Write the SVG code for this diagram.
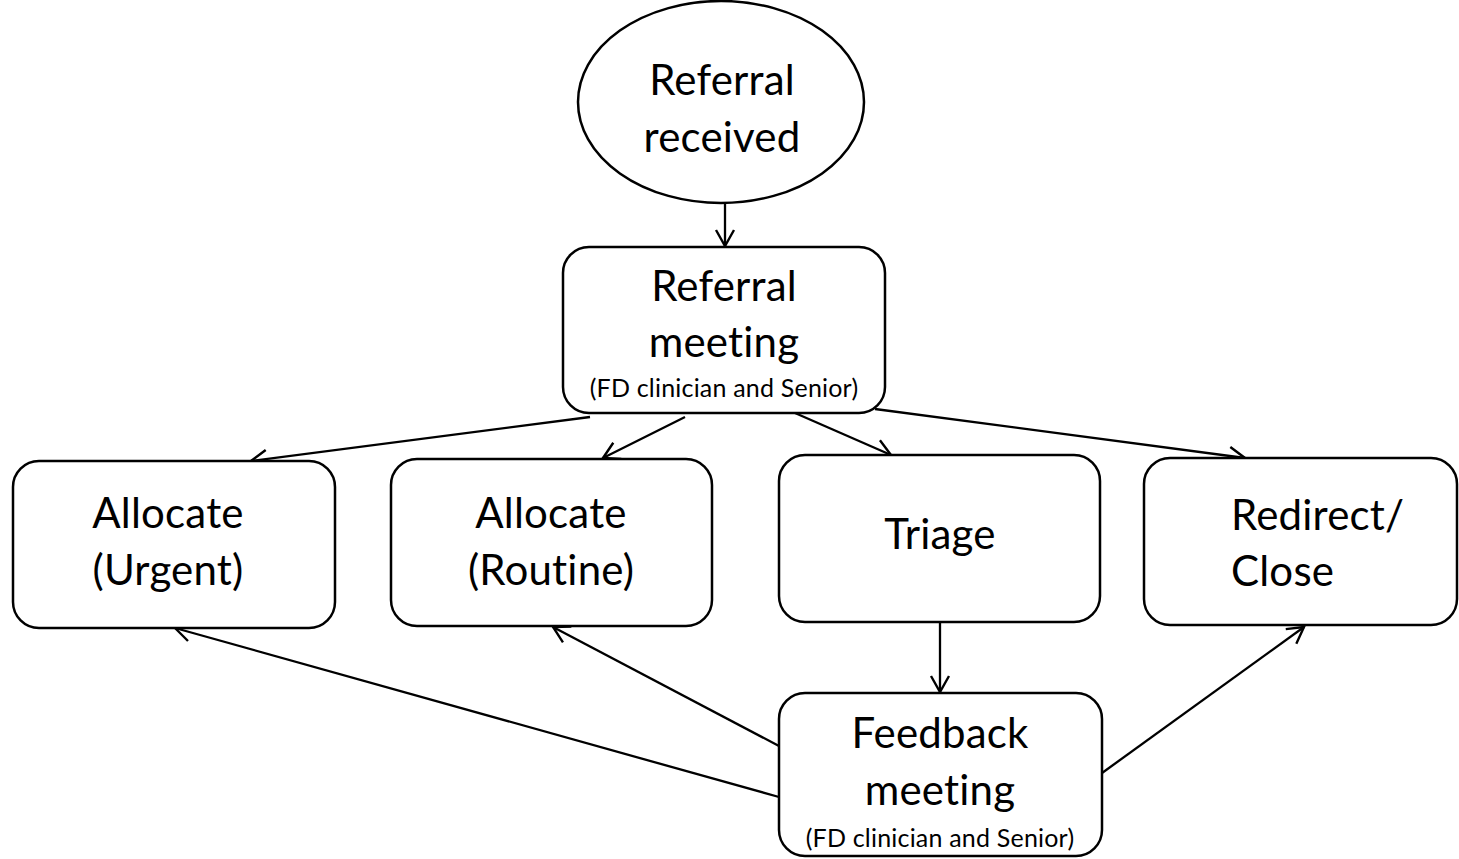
<svg xmlns="http://www.w3.org/2000/svg" width="1459" height="859" viewBox="0 0 1459 859">
<style>
.n{fill:#fff;stroke:#000;stroke-width:2.5}
text{font-family:Lato,"Liberation Sans",sans-serif;fill:#000;text-anchor:middle;font-variant-ligatures:none;font-feature-settings:"liga" 0,"clig" 0;letter-spacing:0.2px}
.t{font-size:42px}
.s{font-size:25px}
.c{stroke:#000;stroke-width:2.3;fill:none;marker-end:url(#a)}
</style>
<defs>
<marker id="a" viewBox="0 0 20 22" refX="18" refY="11" markerWidth="20" markerHeight="22" markerUnits="userSpaceOnUse" orient="auto">
<path d="M2,2 L18,11 L2,20" fill="none" stroke="#000" stroke-width="2.4"/>
</marker>
</defs>
<rect width="1459" height="859" fill="#fff"/>
<g id="connectors">
<line class="c" x1="725" y1="203" x2="725" y2="246"/>
<line class="c" x1="590" y1="417" x2="251" y2="461"/>
<line class="c" x1="685" y1="417" x2="603" y2="458"/>
<line class="c" x1="795" y1="413" x2="891" y2="455"/>
<line class="c" x1="875" y1="409" x2="1245" y2="458"/>
<line class="c" x1="940" y1="622" x2="940" y2="692"/>
<line class="c" x1="779" y1="797" x2="175" y2="628"/>
<line class="c" x1="779" y1="746" x2="553" y2="627"/>
<line class="c" x1="1102" y1="773" x2="1304" y2="627"/>
</g>
<g id="referral-received">
<ellipse class="n" cx="721" cy="102" rx="143" ry="101"/>
<text class="t" x="722" y="95">Referral</text>
<text class="t" x="722" y="152">received</text>
</g>
<g id="referral-meeting">
<rect class="n" x="563" y="247" width="322" height="166" rx="26"/>
<text class="t" x="724" y="301">Referral</text>
<text class="t" x="724" y="357">meeting</text>
<text class="s" x="724" y="397">(FD clinician and Senior)</text>
</g>
<g id="allocate-urgent">
<rect class="n" x="13" y="461" width="322" height="167" rx="26"/>
<text class="t" x="168" y="528">Allocate</text>
<text class="t" x="168" y="585">(Urgent)</text>
</g>
<g id="allocate-routine">
<rect class="n" x="391" y="459" width="321" height="167" rx="26"/>
<text class="t" x="551" y="528">Allocate</text>
<text class="t" x="551" y="585">(Routine)</text>
</g>
<g id="triage">
<rect class="n" x="779" y="455" width="321" height="167" rx="26"/>
<text class="t" x="940" y="549">Triage</text>
</g>
<g id="redirect-close">
<rect class="n" x="1144" y="458" width="313" height="167" rx="26"/>
<text class="t" x="1231" y="530" style="text-anchor:start">Redirect/</text>
<text class="t" x="1231" y="586" style="text-anchor:start">Close</text>
</g>
<g id="feedback-meeting">
<rect class="n" x="779" y="693" width="323" height="163" rx="26"/>
<text class="t" x="940" y="748">Feedback</text>
<text class="t" x="940" y="805">meeting</text>
<text class="s" x="940" y="847">(FD clinician and Senior)</text>
</g>
</svg>
